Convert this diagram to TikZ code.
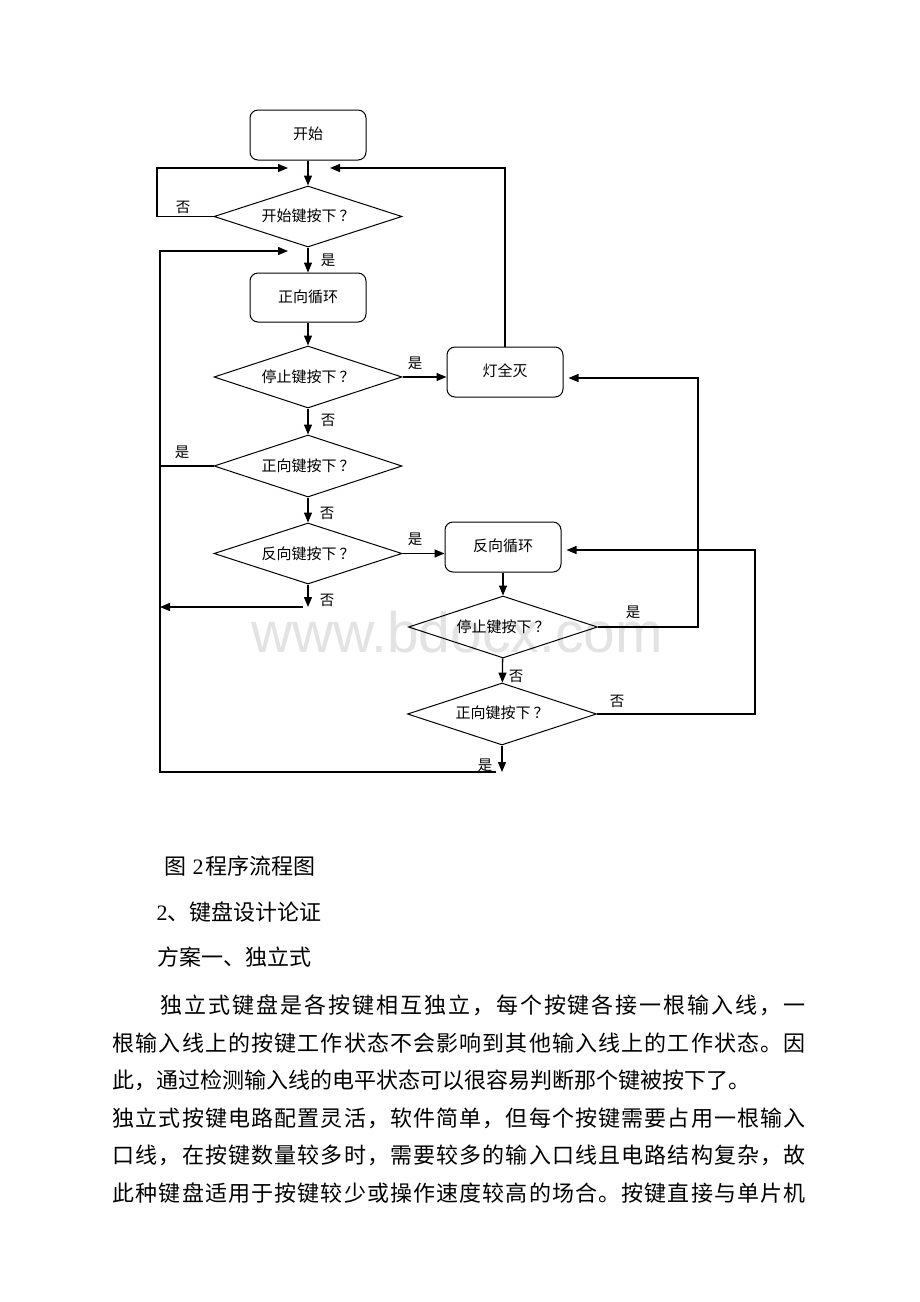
\documentclass[tikz,border=0pt]{standalone}
\usepackage{fontspec}
\setmainfont{Liberation Serif}
\newfontfamily\cjk{Noto Sans CJK SC}
\newfontfamily\wmfont{Liberation Sans}
\usetikzlibrary{shapes.geometric,arrows.meta}
\def\spreadtext#1#2\relax{#1\spreadrest#2\relax}
\def\spreadrest#1{\ifx#1\relax\else\hfil#1\expandafter\spreadrest\fi}
\newcommand\qm{\hspace{3pt}？}
\begin{document}
\begin{tikzpicture}[x=1pt,y=-1pt,
  line width=1.3pt,
  proc/.style={draw, rounded corners=8pt, minimum width=116pt, minimum height=50pt, inner sep=0pt, line width=1pt, font=\cjk\fontsize{15}{17}\selectfont},
  dec/.style={draw, diamond, shape aspect=3, minimum width=188pt, minimum height=61pt, inner sep=0pt, line width=1pt, font=\cjk\fontsize{15}{17}\selectfont},
  lab/.style={font=\cjk\fontsize{14.5}{16}\selectfont, inner sep=0pt},
  arr/.style={-{Triangle[length=10pt,width=8pt]}},
  body/.style={anchor=west, inner sep=0pt, font=\cjk\fontsize{22}{26}\selectfont}
]
\fill[white] (0,0) rectangle (920,1302);
\useasboundingbox (0,0) rectangle (920,1302);
\node[font=\wmfont\fontsize{57}{60}\selectfont, text=black!11, inner sep=0pt] (wm) at (457,632) {www.bdocx.com};

% nodes
\node[proc] (start) at (308,135) {\raisebox{3pt}{开始}};
\node[dec] (d1) at (308,216.5) {\raisebox{2pt}{开始键按下\qm}};
\node[proc, minimum height=49pt] (fwd) at (308,297.5) {\raisebox{3pt}{正向循环}};
\node[dec, minimum height=62pt] (d2) at (308,377) {停止键按下\qm};
\node[proc] (off) at (505,372) {\raisebox{3pt}{灯全灭}};
\node[dec, minimum height=62pt] (d3) at (308,466) {正向键按下\qm};
\node[dec] (d4) at (308,553.5) {反向键按下\qm};
\node[proc] (rev) at (503,547) {\raisebox{3pt}{反向循环}};
\node[dec, minimum width=189pt, minimum height=62pt] (d5) at (503,627) {停止键按下\qm};
\node[dec, minimum width=189pt, minimum height=62pt] (d6) at (502,714) {\raisebox{3pt}{正向键按下\qm}};

% free ends
\coordinate (j1) at (288,168);
\coordinate (j2) at (330,168);
\coordinate (j3) at (288,251);
\coordinate (e4) at (308,607);
\coordinate (e4b) at (303,607);
\coordinate (w4) at (160,607);
\coordinate (e6) at (502,772);
\coordinate (b6) at (496,772);
\coordinate (k5) at (698,378);
\coordinate (k6) at (755,550);

% connectors
\draw[arr] (start) -- (d1);
\draw[arr] (d1.west) -- (157,216.5) -- (157,168) -- (j1);
\draw[arr] (off.north) -- (off.north |- j2) -- (j2);
\draw[arr] (d1) -- (fwd);
\draw[arr] (b6) -- (160,772) -- (160,251) -- (j3);
\draw[arr] (fwd) -- (d2);
\draw[arr] (d2.east) -- (d2.east -| off.west);
\draw[arr] (d2) -- (d3);
\draw (d3.west) -- (160,466);
\draw[arr] (d3) -- (d4);
\draw[arr] (d4.east) -- (d4.east -| rev.west);
\draw[arr] (d4.south) -- (e4);
\draw[arr] (e4b) -- (w4);
\draw[arr] (rev) -- (d5);
\draw[arr, shorten >=5pt] (d5.east) -- (d5.east -| k5) -- (k5) -- (off.east |- k5);
\draw[arr] (d5) -- (d6);
\draw[arr, shorten >=5pt] (d6.east) -- (d6.east -| k6) -- (k6) -- (rev.east |- k6);
\draw[arr] (d6.south) -- (e6);

% labels
\node[lab] (l1) at (183,207) {否};
\node[lab] (l2) at (328,260) {是};
\node[lab] (l3) at (415,363) {是};
\node[lab] (l4) at (328,420) {否};
\node[lab] (l5) at (182,452) {是};
\node[lab] (l6) at (327,513) {否};
\node[lab] (l7) at (415,539) {是};
\node[lab] (l8) at (327,600) {否};
\node[lab] (l9) at (633,612) {是};
\node[lab] (l10) at (516,676) {否};
\node[lab] (l11) at (617,701) {否};
\node[lab] (l12) at (485,765) {是};

% text below
\node[body] (cap) at (164,866) {图\hspace{6pt}{\rmfamily 2}\hspace{2pt}程序流程图};
\node[body] (h2) at (156,912) {{\rmfamily 2}、键盘设计论证};
\node[body] (h3) at (157,957) {方案一、独立式};
\node[body] (p1) at (160,1005) {\hbox to 645pt{\spreadtext 独立式键盘是各按键相互独立，每个按键各接一根输入线，一\relax}};
\node[body] (p2) at (112,1043) {\hbox to 693pt{\spreadtext 根输入线上的按键工作状态不会影响到其他输入线上的工作状态。因\relax}};
\node[body] (p3) at (112,1080) {此，通过检测输入线的电平状态可以很容易判断那个键被按下了。};
\node[body] (p4) at (112,1118) {\hbox to 693pt{\spreadtext 独立式按键电路配置灵活，软件简单，但每个按键需要占用一根输入\relax}};
\node[body] (p5) at (112,1155) {\hbox to 693pt{\spreadtext 口线，在按键数量较多时，需要较多的输入口线且电路结构复杂，故\relax}};
\node[body] (p6) at (112,1193) {\hbox to 693pt{\spreadtext 此种键盘适用于按键较少或操作速度较高的场合。按键直接与单片机\relax}};
\end{tikzpicture}
\end{document}
